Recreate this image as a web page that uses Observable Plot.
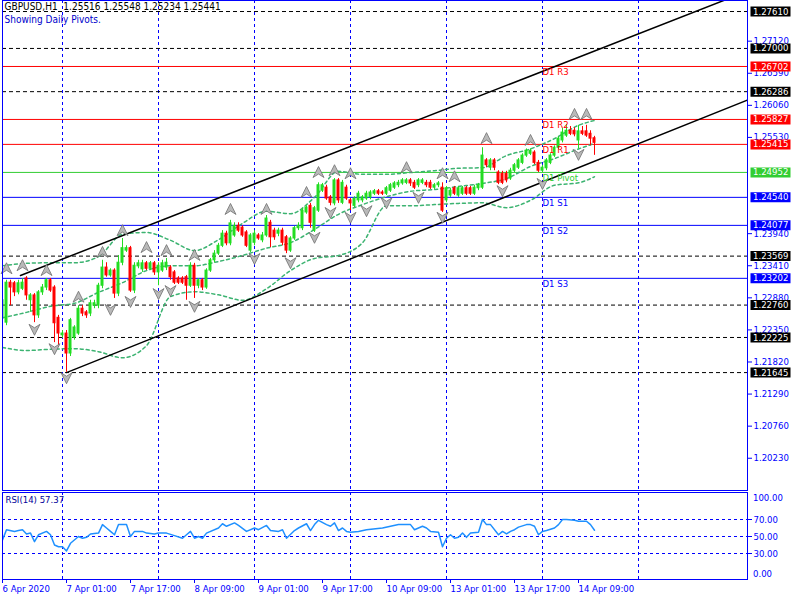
<!DOCTYPE html>
<html><head><meta charset="utf-8">
<script src="https://cdn.jsdelivr.net/npm/d3@7"></script>
<script src="https://cdn.jsdelivr.net/npm/@observablehq/plot@0.6"></script>
<style>
body{margin:0;background:#fff;}
#wrap{position:relative;width:800px;height:600px;overflow:hidden;background:#fff;}
#main{position:absolute;left:0;top:0;}
#rsi{position:absolute;left:0;top:491px;}
</style></head>
<body><div id="wrap"><div id="main"></div><div id="rsi"></div></div>
<script>
// ---------- DATA ----------
const headerLine1 = "GBPUSD,H1  1.25516 1.25548 1.25234 1.25441";
const headerLine2 = "Showing Daily Pivots.";
const rsiTitle = "RSI(14) 57.37";

const open = [
1.2254,1.2247,1.2313,1.2312,1.2297,1.2303,1.2320,1.2284,1.2292,1.2259,
1.2297,1.2305,1.2317,1.2305,1.2255,1.2226,1.2229,1.2196,1.2222,1.2229,
1.2270,1.2264,1.2262,1.2275,1.2275,1.2308,1.2338,1.2325,1.2333,1.2295,
1.2346,1.2366,1.2370,1.2300,1.2340,1.2335,1.2345,1.2336,1.2345,1.2330,
1.2333,1.2338,1.2338,1.2330,1.2320,1.2320,1.2322,1.2308,1.2341,1.2308,
1.2317,1.2305,1.2333,1.2350,1.2361,1.2374,1.2394,1.2378,1.2391,1.2407,
1.2404,1.2396,1.2366,1.2379,1.2391,1.2383,1.2391,1.2412,1.2399,1.2394,
1.2399,1.2388,1.2366,1.2386,1.2403,1.2403,1.2429,1.2440,1.2399,1.2432,
1.2465,1.2470,1.2454,1.2444,1.2482,1.2445,1.2470,1.2449,1.2440,1.2449,
1.2449,1.2452,1.2454,1.2460,1.2464,1.2462,1.2460,1.2465,1.2470,1.2474,
1.2477,1.2478,1.2482,1.2478,1.2474,1.2478,1.2478,1.2478,1.2470,1.2474,
1.2470,1.2449,1.2457,1.2469,1.2457,1.2460,1.2469,1.2469,1.2460,1.2469,
1.2470,1.2515,1.2503,1.2515,1.2495,1.2493,1.2493,1.2485,1.2498,1.2503,
1.2511,1.2523,1.2526,1.2528,1.2511,1.2498,1.2502,1.2511,1.2523,1.2536,
1.2548,1.2556,1.2564,1.2564,1.2548,1.2563,1.2563,1.2559,1.25516];
const high = [
1.2290,1.2317,1.2317,1.2315,1.2317,1.2320,1.2323,1.2295,1.2295,1.2300,
1.2310,1.2320,1.2320,1.2308,1.2259,1.2234,1.2234,1.2254,1.2242,1.2275,
1.2275,1.2267,1.2284,1.2284,1.2312,1.2350,1.2346,1.2336,1.2336,1.2358,
1.2386,1.2374,1.2373,1.2346,1.2350,1.2350,1.2348,1.2348,1.2348,1.2346,
1.2350,1.2353,1.2341,1.2333,1.2323,1.2323,1.2325,1.2346,1.2345,1.2320,
1.2320,1.2336,1.2353,1.2366,1.2378,1.2399,1.2398,1.2416,1.2412,1.2412,
1.2407,1.2399,1.2394,1.2399,1.2394,1.2396,1.2424,1.2416,1.2403,1.2403,
1.2403,1.2391,1.2389,1.2406,1.2412,1.2436,1.2440,1.2444,1.2439,1.2478,
1.2477,1.2474,1.2457,1.2485,1.2485,1.2482,1.2474,1.2452,1.2455,1.2464,
1.2457,1.2464,1.2465,1.2467,1.2467,1.2465,1.2472,1.2477,1.2480,1.2482,
1.2485,1.2485,1.2485,1.2482,1.2485,1.2485,1.2482,1.2482,1.2477,1.2480,
1.2478,1.2472,1.2469,1.2472,1.2472,1.2472,1.2472,1.2472,1.2474,1.2477,
1.2536,1.2518,1.2518,1.2518,1.2498,1.2497,1.2497,1.2502,1.2510,1.2518,
1.2526,1.2534,1.2534,1.2531,1.2515,1.2507,1.2518,1.2526,1.2539,1.2554,
1.2568,1.2574,1.2571,1.2569,1.2573,1.2571,1.2573,1.2564,1.25548];
const low = [
1.2247,1.2242,1.2275,1.2290,1.2293,1.2300,1.2284,1.2264,1.2247,1.2254,
1.2292,1.2300,1.2297,1.2214,1.2206,1.2221,1.2165,1.2191,1.2218,1.2226,
1.2257,1.2254,1.2257,1.2270,1.2270,1.2303,1.2322,1.2322,1.2287,1.2290,
1.2341,1.2363,1.2297,1.2295,1.2336,1.2330,1.2333,1.2333,1.2325,1.2308,
1.2330,1.2333,1.2317,1.2310,1.2310,1.2310,1.2284,1.2305,1.2287,1.2303,
1.2300,1.2302,1.2330,1.2346,1.2358,1.2371,1.2374,1.2374,1.2388,1.2396,
1.2388,1.2371,1.2363,1.2374,1.2383,1.2379,1.2388,1.2371,1.2383,1.2389,
1.2374,1.2361,1.2363,1.2383,1.2399,1.2399,1.2426,1.2403,1.2396,1.2429,
1.2462,1.2449,1.2440,1.2440,1.2444,1.2442,1.2449,1.2432,1.2437,1.2445,
1.2445,1.2449,1.2450,1.2457,1.2457,1.2457,1.2457,1.2462,1.2467,1.2470,
1.2474,1.2475,1.2472,1.2467,1.2470,1.2475,1.2470,1.2467,1.2467,1.2470,
1.2429,1.2445,1.2454,1.2457,1.2454,1.2457,1.2457,1.2457,1.2457,1.2465,
1.2467,1.2503,1.2498,1.2498,1.2475,1.2475,1.2478,1.2482,1.2495,1.2500,
1.2508,1.2520,1.2523,1.2508,1.2495,1.2495,1.2498,1.2508,1.2520,1.2533,
1.2544,1.2553,1.2556,1.2554,1.2534,1.2556,1.2553,1.2539,1.25234];
const close = [
1.2284,1.2313,1.2305,1.2297,1.2312,1.2313,1.2292,1.2292,1.2259,1.2297,
1.2305,1.2317,1.2300,1.2246,1.2229,1.2229,1.2196,1.2251,1.2239,1.2270,
1.2262,1.2259,1.2279,1.2279,1.2308,1.2338,1.2325,1.2333,1.2295,1.2346,
1.2370,1.2370,1.2300,1.2341,1.2345,1.2345,1.2336,1.2345,1.2330,1.2341,
1.2345,1.2346,1.2322,1.2313,1.2313,1.2313,1.2308,1.2341,1.2308,1.2317,
1.2305,1.2333,1.2350,1.2361,1.2374,1.2394,1.2378,1.2411,1.2407,1.2399,
1.2391,1.2374,1.2391,1.2394,1.2386,1.2391,1.2419,1.2388,1.2388,1.2399,
1.2379,1.2366,1.2386,1.2403,1.2407,1.2432,1.2437,1.2412,1.2436,1.2474,
1.2474,1.2452,1.2445,1.2482,1.2449,1.2478,1.2452,1.2444,1.2452,1.2460,
1.2454,1.2460,1.2462,1.2464,1.2460,1.2460,1.2469,1.2474,1.2477,1.2478,
1.2482,1.2482,1.2477,1.2470,1.2482,1.2482,1.2474,1.2470,1.2474,1.2477,
1.2432,1.2469,1.2465,1.2460,1.2469,1.2469,1.2460,1.2460,1.2470,1.2474,
1.2523,1.2507,1.2515,1.2503,1.2478,1.2478,1.2482,1.2498,1.2507,1.2515,
1.2523,1.2531,1.2531,1.2511,1.2498,1.2503,1.2515,1.2523,1.2536,1.2551,
1.2561,1.2564,1.2559,1.2558,1.2563,1.2559,1.2556,1.2551,1.25441];

// envelope bands (dashed green), read at sampled bars
const bandBars  = [0,6,12,18,24,30,36,42,48,54,60,66,72,78,84,90,96,102,108,114,120,126,132,138,144,148];
const bandUpper = [1.2341,1.2345,1.2346,1.2346,1.2356,1.2393,1.2396,1.2383,1.2366,1.2384,1.2411,1.2431,1.2427,1.2454,1.2497,1.2492,1.2492,1.2495,1.2498,1.2502,1.2503,1.2523,1.2534,1.2551,1.2573,1.2581];
const bandMid   = [1.2255,1.2264,1.2274,1.2279,1.2297,1.2313,1.2333,1.2341,1.2341,1.2348,1.2358,1.2370,1.2379,1.2401,1.2426,1.2442,1.2455,1.2464,1.2467,1.2472,1.2477,1.2485,1.2505,1.2518,1.2534,1.2543];
const bandLower = [1.2206,1.2201,1.2203,1.2204,1.2199,1.2189,1.2209,1.2290,1.2298,1.2293,1.2284,1.2303,1.2333,1.2353,1.2358,1.2379,1.2440,1.2440,1.2442,1.2444,1.2445,1.2437,1.2449,1.2474,1.2478,1.2488];

// fractal arrows
const upBar   = [1,5,11,19,25,30,36,41,48,57,66,76,79,83,87,101,110,113,121,132,143,146];
const upPrice = [1.2336,1.2341,1.2333,1.2289,1.2363,1.2399,1.2371,1.2366,1.2358,1.2434,1.2434,1.2462,1.2495,1.2498,1.2493,1.2503,1.2493,1.2488,1.2551,1.2548,1.2591,1.2591];
const dnBar   = [8,13,16,27,32,39,42,48,63,72,78,82,87,91,96,104,110,125,135,144];
const dnPrice = [1.2236,1.2204,1.2156,1.2269,1.2282,1.2295,1.2300,1.2274,1.2353,1.2346,1.2388,1.2429,1.2421,1.2432,1.2445,1.2454,1.2421,1.2465,1.2477,1.2525];

// trend channel (two points each)
const chanUpperBar = [4.5, 186.25], chanUpperPrice = [1.23249, 1.27946];
const chanLowerBar = [16, 186.25],  chanLowerPrice = [1.21645, 1.26147];

// horizontal lines
const dashedLevels = [1.27610, 1.27000, 1.26286, 1.23569, 1.22760, 1.22225, 1.21645];
const pivotNames  = ["D1 R3","D1 R2","D1 R1","D1 Pivot","D1 S1","D1 S2","D1 S3"];
const pivotValues = [1.26702, 1.25827, 1.25415, 1.24952, 1.24540, 1.24077, 1.23202];
const pivotColors = ["#ff0000","#ff0000","#ff0000","#32cd32","#0000ff","#0000ff","#0000ff"];
const pivotStartBar = 135;

// price-scale labels (1.25000 and 1.24470 are fully hidden behind price boxes in the original)
const priceTicks = [1.27120,1.26590,1.26060,1.25530,1.23940,1.23410,1.22880,1.22350,1.21820,1.21290,1.20760,1.20230];
const gridBars = [15,39,63,87,111,135,159];
const xTickBars = [0,16,32,48,64,80,96,112,128,144];
const xTickLabels = ["6 Apr 2020","7 Apr 01:00","7 Apr 17:00","8 Apr 09:00","9 Apr 01:00","9 Apr 17:00","10 Apr 09:00","13 Apr 01:00","13 Apr 17:00","14 Apr 09:00"];

// RSI(14)
const rsiBar = [0,1,3,4,5,6,7,8,9,11,12,13,14,15,16,17,19,20,21,22,24,25,26,27,28,29,31,32,33,34,35,36,38,39,40,41,43,45,46,47,48,49,50,51,54,55,56,58,59,61,63,64,66,67,69,70,71,73,74,76,77,78,79,81,82,83,84,85,86,87,89,91,95,99,102,103,104,105,106,107,109,110,111,112,113,114,115,116,117,119,120,121,122,124,125,126,127,128,129,131,132,133,134,135,136,138,139,140,141,143,144,146,147,148];
const rsiVal = [46,58,56,57,58,53,54,44,52,56,52,40,38,38,33,42,50,48,49,53,54,64,60,56,52,64,64,50,56,56,56,54,53,54,54,54,51,48,52,56,48,50,48,54,60,65,62,66,63,56,60,58,63,57,56,58,48,57,60,65,57,64,69,64,62,66,57,60,56,55,56,58,60,64,64,58,60,62,60,56,55,38,48,52,48,49,54,49,54,55,70,64,64,52,56,53,56,58,61,64,64,62,52,56,57,60,64,70,70,69,68,68,64,57.37];
const rsiLevels = [70, 50, 30];

// ---------- BUILD ----------
const FONT = '"DejaVu Sans Condensed","DejaVu Sans","Liberation Sans",sans-serif';
const BULL = "#22dd22", BEAR = "#ff0000", AXIS = "#0000ff";
const xDomain = [-0.5, 186.25], xRange = [0, 747];

const candles = open.map((o, i) => ({i, o, h: high[i], l: low[i], c: close[i], col: close[i] >= o ? BULL : BEAR}));
const bandRows = bandBars.flatMap((b, i) => [
  {b, p: bandUpper[i], z: "u"}, {b, p: bandMid[i], z: "m"}, {b, p: bandLower[i], z: "l"}]);
const chanRows = [
  ...chanUpperBar.map((b, i) => ({b, p: chanUpperPrice[i], z: "u"})),
  ...chanLowerBar.map((b, i) => ({b, p: chanLowerPrice[i], z: "l"}))];
const upRows = upBar.map((b, i) => ({b, p: upPrice[i]}));
const dnRows = dnBar.map((b, i) => ({b, p: dnPrice[i]}));
const pivots = pivotValues.map((v, i) => ({v, name: pivotNames[i], col: pivotColors[i]}));
const boxes = [
  ...dashedLevels.map(v => ({v, col: "#000000"})),
  ...pivots.map(d => ({v: d.v, col: d.col}))];
const rsiRows = rsiBar.map((b, i) => ({b, v: rsiVal[i]}));

const arrowUp = {draw(ctx){ctx.moveTo(0,-6);ctx.lineTo(5.5,5);ctx.lineTo(0,1.5);ctx.lineTo(-5.5,5);ctx.closePath();}};
const arrowDn = {draw(ctx){ctx.moveTo(0,6);ctx.lineTo(5.5,-5);ctx.lineTo(0,-1.5);ctx.lineTo(-5.5,-5);ctx.closePath();}};
const boxSym  = {draw(ctx){ctx.rect(-20,-5,40,10);}};

const styleObj = {fontFamily: FONT, fontSize: "9.5px", background: "#fff", overflow: "visible"};

const main = Plot.plot({
  width: 800, height: 491,
  marginLeft: 2, marginRight: 53, marginTop: 0, marginBottom: 1,
  x: {domain: xDomain, range: xRange, axis: null},
  y: {domain: [1.19697, 1.27792], range: [490, 0], axis: null},
  color: {type: "identity"},
  style: styleObj,
  marks: [
    Plot.ruleX(gridBars, {x: d => d, stroke: AXIS, strokeDasharray: "3,3"}),
    Plot.ruleY(dashedLevels, {y: d => d, stroke: "#000", strokeDasharray: "4,3"}),
    Plot.ruleY(pivots, {y: "v", stroke: "col"}),
    Plot.line(bandRows, {x: "b", y: "p", z: "z", stroke: "#3cb371", strokeDasharray: "3,3", curve: "monotone-x", clip: true}),
    Plot.line(chanRows, {x: "b", y: "p", z: "z", stroke: "#000", clip: true}),
    Plot.ruleX(candles, {x: "i", y1: "l", y2: "h", stroke: "col", clip: true}),
    Plot.rect(candles, {x1: d => d.i - 0.25, x2: d => d.i + 0.25, y1: "o", y2: "c", fill: "col", stroke: "col", clip: true}),
    Plot.dot(upRows, {x: "b", y: "p", symbol: arrowUp, fill: "#b9b9b9", stroke: "#707070", strokeWidth: 0.8}),
    Plot.dot(dnRows, {x: "b", y: "p", symbol: arrowDn, fill: "#b9b9b9", stroke: "#707070", strokeWidth: 0.8}),
    Plot.text(pivots, {x: () => pivotStartBar, y: "v", text: "name", fill: "col", textAnchor: "start", lineAnchor: "top", dy: 2}),
    Plot.frame({stroke: AXIS}),
    Plot.axisY({anchor: "right", ticks: priceTicks, tickFormat: d => d.toFixed(5), tickSize: 4, tickPadding: 2, fill: AXIS, stroke: AXIS, label: null}),
    Plot.dot(boxes, {y: "v", frameAnchor: "right", dx: 23, symbol: boxSym, fill: "col", stroke: "none"}),
    Plot.text(boxes, {y: "v", frameAnchor: "right", dx: 5.5, text: d => d.v.toFixed(5), fill: "#fff", textAnchor: "start"}),
    Plot.text([headerLine1], {frameAnchor: "top-left", dx: 2, dy: 2, text: d => d, fill: "#000", textAnchor: "start", lineAnchor: "top", fontSize: 10}),
    Plot.text([headerLine2], {frameAnchor: "top-left", dx: 2, dy: 15, text: d => d, fill: "#0000cc", textAnchor: "start", lineAnchor: "top", fontSize: 10})
  ]
});
document.getElementById("main").appendChild(main);

const rsi = Plot.plot({
  width: 800, height: 109,
  marginLeft: 2, marginRight: 53, marginTop: 1, marginBottom: 21,
  x: {domain: xDomain, range: xRange, axis: null},
  y: {domain: [0, 100], range: [87.5, 2.5], axis: null},
  style: styleObj,
  marks: [
    Plot.ruleX(gridBars, {x: d => d, stroke: AXIS, strokeDasharray: "3,3"}),
    Plot.ruleY(rsiLevels, {y: d => d, stroke: AXIS, strokeDasharray: "3,3"}),
    Plot.line(rsiRows, {x: "b", y: "v", stroke: "#1e90ff", clip: true}),
    Plot.frame({stroke: AXIS}),
    Plot.axisY({anchor: "right", ticks: rsiLevels, tickFormat: d => d.toFixed(2), tickSize: 4, tickPadding: 2, fill: AXIS, stroke: AXIS, label: null}),
    Plot.text([100], {y: d => d, frameAnchor: "right", dx: 5.5, dy: 3.5, text: d => d.toFixed(2), fill: AXIS, textAnchor: "start"}),
    Plot.text([0], {y: d => d, frameAnchor: "right", dx: 5.5, dy: -5.5, text: d => d.toFixed(2), fill: AXIS, textAnchor: "start"}),
    Plot.axisX({anchor: "bottom", ticks: xTickBars, tickFormat: d => xTickLabels[xTickBars.indexOf(d)], tickSize: 4, tickPadding: 2, textAnchor: "start", fill: AXIS, stroke: AXIS, label: null}),
    Plot.text([rsiTitle], {frameAnchor: "top-left", dx: 3, dy: 4, text: d => d, fill: "#000099", textAnchor: "start", lineAnchor: "top"})
  ]
});
document.getElementById("rsi").appendChild(rsi);
</script>
</body></html>
